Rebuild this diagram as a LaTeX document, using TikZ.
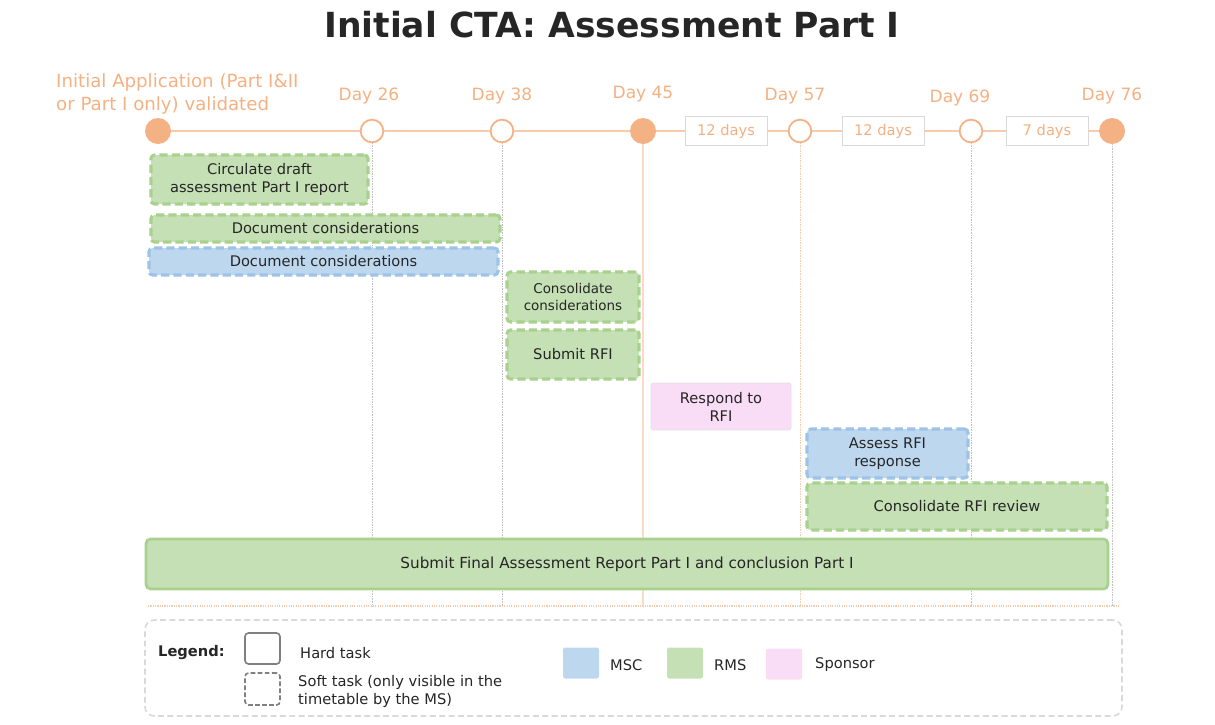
\documentclass[tikz,border=0pt]{standalone}
\usepackage{fontspec}
\setmainfont{DejaVu Sans}
\usetikzlibrary{positioning}
\definecolor{msorange}{HTML}{F4B183}
\definecolor{tlorange}{HTML}{F8CBAD}
\definecolor{rmsfill}{HTML}{C5E0B4}
\definecolor{rmsline}{HTML}{A9D18E}
\definecolor{mscfill}{HTML}{BDD7EE}
\definecolor{mscline}{HTML}{9DC3E6}
\definecolor{spfill}{HTML}{F9DCF6}
\definecolor{spline}{HTML}{E6DCE6}
\definecolor{boxgrey}{HTML}{D9D9D9}
\definecolor{txtgrey}{HTML}{262626}

\begin{document}
\begin{tikzpicture}[x=0.03cm,y=-0.03cm,
   every node/.style={inner sep=0pt,text=txtgrey,font=\fontsize{12.5}{15.4}\selectfont},
   sz/.style 2 args={minimum width=#1*0.03cm,minimum height=#2*0.03cm},
   msfull/.style={circle,fill=msorange,minimum size=0.78cm},
   msopen/.style={circle,draw=msorange,line width=1.5pt,fill=white,minimum size=0.68cm},
   daylbl/.style={text=msorange,font=\fontsize{14.5}{17}\selectfont},
   dur/.style={draw=boxgrey,line width=0.8pt,fill=white,text=msorange,sz={82}{29}},
   tl/.style={draw=tlorange,line width=1.5pt},
   vl/.style={draw=black!25,line width=0.4pt,densely dotted},
   soft/.style={rounded corners=3pt,line width=2.6pt,dash pattern=on 7pt off 3.5pt,align=center},
   rms/.style={soft,draw=rmsline,fill=rmsfill},
   msc/.style={soft,draw=mscline,fill=mscfill},
   spons/.style={draw=spline,line width=0.6pt,fill=spfill,rounded corners=2pt,align=center},
   hard/.style={rounded corners=4pt,line width=2.4pt,draw=rmsline,fill=rmsfill},
   swatch/.style={rounded corners=2pt,sz={36}{31}}]
\useasboundingbox (0,0) rectangle (1215,724);

%% Title
\node[font=\bfseries\fontsize{29.5}{34}\selectfont] (title) at (612,25) {Initial CTA: Assessment Part I};

%% Milestones on the timeline
\node[msfull] (m0) at (158,131) {};
\node[msopen] (m1) at (372,131) {};
\node[msopen] (m2) at (502,131) {};
\node[msfull] (m3) at (643,131) {};
\node[dur]    (d1) at (726,131) {12 days};
\node[msopen] (m4) at (800,131) {};
\node[dur]    (d2) at (883,131) {12 days};
\node[msopen] (m5) at (971,131) {};
\node[dur]    (d3) at (1047,131) {7 days};
\node[msfull] (m6) at (1112,131) {};
\draw[tl] (m0) -- (m1) -- (m2) -- (m3) -- (d1) -- (m4) -- (d2) -- (m5) -- (d3) -- (m6);

\node[daylbl,anchor=west,align=left,font=\fontsize{15.5}{19}\selectfont] (start) at (56,94) {Initial Application (Part I\&II\\or Part I only) validated};
\node[daylbl] (l1) at (369,96) {Day 26};
\node[daylbl] (l2) at (502,96) {Day 38};
\node[daylbl] (l3) at (643,94) {Day 45};
\node[daylbl] (l4) at (795,96) {Day 57};
\node[daylbl] (l5) at (960,98) {Day 69};
\node[daylbl] (l6) at (1112,96) {Day 76};

%% Drop lines and base line
\coordinate (bl) at (148,606);
\coordinate (br) at (1120,606);
\draw[vl] (m1) -- (m1 |- bl);
\draw[vl] (m2) -- (m2 |- bl);
\draw[tlorange!70,line width=2pt] (m3) -- (m3 |- bl);
\draw[vl,draw=tlorange] (m4) -- (m4 |- bl);
\draw[vl] (m5) -- (m5 |- bl);
\draw[vl] (m6) -- (m6 |- bl);
\draw[tlorange,line width=1pt,densely dotted] (bl) -- (br);

%% Tasks
\node[rms,sz={217}{49}] (circ) at (259.5,179.5) {Circulate draft\\assessment Part I report};
\node[rms,sz={349}{27}] (docr) at (325.5,228.5) {Document considerations};
\node[msc,sz={349}{27}] (docm) at (323.5,261.5) {Document considerations};
\node[rms,sz={132}{50},font=\fontsize{11.5}{14.5}\selectfont] (cons) at (573,297) {Consolidate\\considerations};
\node[rms,sz={132}{49}] (rfi)  at (573,354.5) {Submit RFI};
\node[spons,sz={140}{47}] (resp) at (721,406.5) {Respond to\\RFI};
\node[msc,sz={161}{49}] (asse) at (887.5,453.5) {Assess RFI\\response};
\node[rms,sz={300}{47}] (crev) at (957,506.5) {Consolidate RFI review};
\node[hard,sz={962}{50},font=\fontsize{13}{16}\selectfont] (fin) at (627,564) {Submit Final Assessment Report Part I and conclusion Part I};

%% Legend
\node[draw=boxgrey,line width=1.4pt,dash pattern=on 5pt off 3pt,rounded corners=8pt,sz={977}{96}] (leg) at (633.5,668) {};
\node[font=\bfseries\fontsize{12.5}{15}\selectfont,anchor=west] (legt) at (158,653) {Legend:};
\node[draw=black!50,line width=1.4pt,rounded corners=3pt,sz={35}{31}] (hk) at (262.5,648.5) {};
\node[draw=black!50,line width=1.4pt,dash pattern=on 4pt off 2pt,rounded corners=3pt,sz={35}{32}] (sk) at (262.5,689) {};
\node[anchor=west] (hkt) at (300,653) {Hard task};
\node[anchor=west,align=left,font=\fontsize{12.5}{15.4}\selectfont] (skt) at (298,691) {Soft task (only visible in the\\timetable by the MS)};
\node[swatch,fill=mscfill] (sw1) at (581,663) {};
\node[anchor=west] (sw1t) at (610,665) {MSC};
\node[swatch,fill=rmsfill] (sw2) at (685,663) {};
\node[anchor=west] (sw2t) at (714,665) {RMS};
\node[swatch,fill=spfill] (sw3) at (784,664) {};
\node[anchor=west] (sw3t) at (815,665) {Sponsor};
\end{tikzpicture}
\end{document}
